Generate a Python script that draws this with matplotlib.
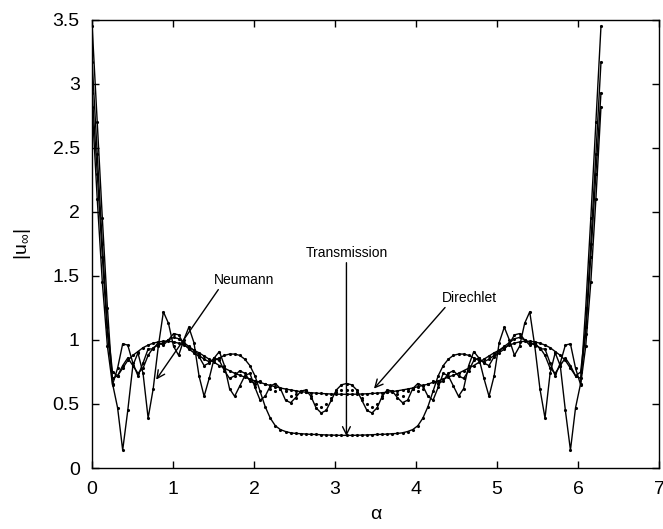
import numpy as np
import matplotlib.pyplot as plt

plt.rcParams['font.family'] = ['Liberation Sans', 'DejaVu Sans']
plt.rcParams['mathtext.fontset'] = 'custom'
plt.rcParams['mathtext.rm'] = 'Liberation Sans'
plt.rcParams['mathtext.it'] = 'Liberation Sans'

# -------------------------------------------------------------------------
# data, 101 samples on [0, 2pi]

alpha = np.linspace(0, 2 * np.pi, 101)

neumann = [3.45, 2.70, 1.95, 1.25, 0.66, 0.47, 0.14, 0.45, 0.80, 0.90,
           0.74, 0.39, 0.62, 0.95, 1.22, 1.13, 0.95, 0.88, 1.00, 1.10,
           0.98, 0.72, 0.56, 0.70, 0.86, 0.91, 0.80, 0.62, 0.56, 0.64,
           0.72, 0.74, 0.63, 0.53, 0.56, 0.64, 0.66, 0.62, 0.53, 0.51,
           0.55, 0.60, 0.61, 0.56, 0.47, 0.43, 0.45, 0.53, 0.61, 0.65,
           0.66,
           0.65, 0.61, 0.53, 0.45, 0.43, 0.47, 0.56, 0.61, 0.60, 0.55,
           0.51, 0.53, 0.62, 0.66, 0.64, 0.56, 0.53, 0.63, 0.74, 0.72,
           0.64, 0.56, 0.62, 0.80, 0.91, 0.86, 0.70, 0.56, 0.72, 0.98,
           1.10, 1.00, 0.88, 0.95, 1.13, 1.22, 0.95, 0.62, 0.39, 0.74,
           0.90, 0.80, 0.45, 0.14, 0.47, 0.66, 1.25, 1.95, 2.70, 3.45]

neumann_b = [2.82, 2.10, 1.45, 0.95, 0.65, 0.78, 0.97, 0.96, 0.82, 0.72,
             0.82, 0.93, 0.93, 0.98, 0.96, 1.00, 1.05, 1.04, 0.97, 0.93,
             0.90, 0.87, 0.80, 0.82, 0.86, 0.84, 0.76, 0.70, 0.72, 0.76,
             0.74, 0.68, 0.66, 0.68, 0.66, 0.62, 0.60, 0.62, 0.60, 0.56,
             0.58, 0.60, 0.59, 0.55, 0.50, 0.48, 0.50, 0.55, 0.59, 0.61,
             0.61,
             0.61, 0.59, 0.55, 0.50, 0.48, 0.50, 0.55, 0.59, 0.60, 0.58,
             0.56, 0.60, 0.62, 0.60, 0.62, 0.66, 0.68, 0.66, 0.68, 0.74,
             0.76, 0.72, 0.70, 0.76, 0.84, 0.86, 0.82, 0.80, 0.87, 0.90,
             0.93, 0.97, 1.04, 1.05, 1.00, 0.96, 0.98, 0.93, 0.93, 0.82,
             0.72, 0.82, 0.96, 0.97, 0.78, 0.65, 0.95, 1.45, 2.10, 2.82]

dirichlet = [3.17, 2.45, 1.75, 1.10, 0.75, 0.72, 0.78, 0.84, 0.88, 0.91,
             0.94, 0.96, 0.975, 0.985, 0.99, 0.99, 0.985, 0.975, 0.96, 0.94,
             0.92, 0.90, 0.875, 0.85, 0.825, 0.80, 0.78, 0.76, 0.74, 0.725,
             0.71, 0.695, 0.68, 0.67, 0.655, 0.645, 0.635, 0.625, 0.617, 0.61,
             0.603, 0.597, 0.592, 0.588, 0.585, 0.582, 0.58, 0.578, 0.577, 0.576,
             0.576,
             0.576, 0.577, 0.578, 0.58, 0.582, 0.585, 0.588, 0.592, 0.597, 0.603,
             0.61, 0.617, 0.625, 0.635, 0.645, 0.655, 0.67, 0.68, 0.695, 0.71,
             0.725, 0.74, 0.76, 0.78, 0.80, 0.825, 0.85, 0.875, 0.90, 0.92,
             0.94, 0.96, 0.975, 0.985, 0.99, 0.99, 0.985, 0.975, 0.96, 0.94,
             0.91, 0.88, 0.84, 0.78, 0.72, 0.75, 1.10, 1.75, 2.45, 3.17]

transmission = [2.93, 2.30, 1.65, 1.05, 0.70, 0.72, 0.80, 0.86, 0.80, 0.74,
                0.78, 0.88, 0.94, 0.96, 0.98, 1.00, 1.02, 1.01, 0.98, 0.95,
                0.92, 0.88, 0.85, 0.83, 0.84, 0.86, 0.88, 0.89, 0.89, 0.88,
                0.85, 0.80, 0.72, 0.60, 0.48, 0.39, 0.33, 0.30, 0.285, 0.275,
                0.27, 0.268, 0.265, 0.263, 0.262, 0.26, 0.258, 0.257, 0.256, 0.255,
                0.255,
                0.255, 0.256, 0.257, 0.258, 0.26, 0.262, 0.263, 0.265, 0.268, 0.27,
                0.275, 0.285, 0.30, 0.33, 0.39, 0.48, 0.60, 0.72, 0.80, 0.85,
                0.88, 0.89, 0.89, 0.88, 0.86, 0.84, 0.83, 0.85, 0.88, 0.92,
                0.95, 0.98, 1.01, 1.02, 1.00, 0.98, 0.96, 0.94, 0.88, 0.78,
                0.74, 0.80, 0.86, 0.80, 0.72, 0.70, 1.05, 1.65, 2.30, 2.93]

xticks = [0, 1, 2, 3, 4, 5, 6, 7]
yticks = [0, 0.5, 1, 1.5, 2, 2.5, 3, 3.5]
ytick_labels = ['0', '0.5', '1', '1.5', '2', '2.5', '3', '3.5']

# -------------------------------------------------------------------------
# plot

fig = plt.figure(figsize=(6.63, 5.29), dpi=100)
ax = fig.add_axes([0.139, 0.1153, 0.855, 0.847])

style = dict(color='black', lw=1.0, marker='.', ms=2.5)

ax.plot(alpha, neumann, **style)
ax.plot(alpha, dirichlet, **style)
ax.plot(alpha, transmission, **style)

# second jagged set: line only at the sides, dots everywhere
nb = np.array(neumann_b)
left = np.arange(len(alpha)) <= 33
right = np.arange(len(alpha)) >= 67
ax.plot(alpha[left], nb[left], color='black', lw=1.0)
ax.plot(alpha[right], nb[right], color='black', lw=1.0)
ax.plot(alpha, nb, ls='none', color='black', marker='.', ms=2.5)

arrow = dict(arrowstyle='->', color='black', lw=1.0, shrinkA=0, shrinkB=0,
             mutation_scale=14)
ax.annotate('Neumann', xy=(0.79, 0.69), xytext=(1.88, 1.47),
            ha='center', va='center', fontsize=10,
            arrowprops=dict(arrow, relpos=(0.1, 0.0)))
ax.annotate('Transmission', xy=(3.14, 0.25), xytext=(3.14, 1.68),
            ha='center', va='center', fontsize=10,
            arrowprops=dict(arrow, relpos=(0.5, 0.0)))
ax.annotate('Direchlet', xy=(3.48, 0.62), xytext=(4.66, 1.33),
            ha='center', va='center', fontsize=10,
            arrowprops=dict(arrow, relpos=(0.1, 0.0)))

ax.set_xlim(0, 7)
ax.set_ylim(0, 3.5)
ax.set_xticks(xticks)
ax.set_yticks(yticks)
ax.set_yticklabels(ytick_labels)
ax.tick_params(direction='in', top=True, right=True, length=5, width=1,
               labelsize=14, pad=9)
for s in ax.spines.values():
    s.set_linewidth(1.0)

ax.set_xlabel('α', fontsize=14, labelpad=6)
ax.set_ylabel(r'$\mathrm{|u_{\infty}|}$', fontsize=14, labelpad=14)

fig.savefig('out.png', dpi=100)
